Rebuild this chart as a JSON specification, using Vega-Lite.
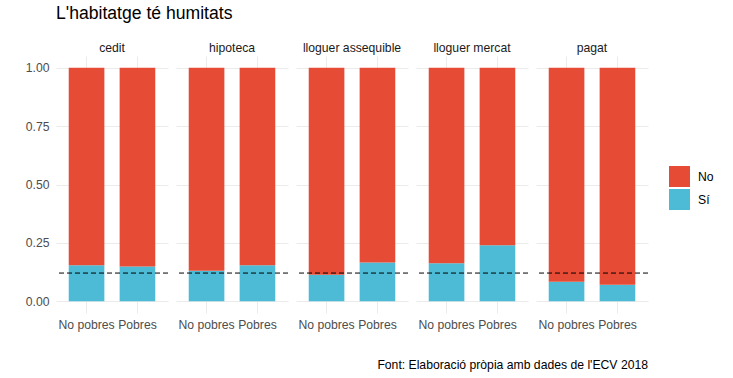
{
  "$schema": "https://vega.github.io/schema/vega-lite/v6.json",
  "padding": {"left": 25, "top": 5, "right": 5, "bottom": 5},
  "title": {"text": "Font: Elaboració pròpia amb dades de l'ECV 2018", "orient": "bottom", "anchor": "end", "fontSize": 12.2, "fontWeight": "normal", "color": "#000000", "font": "Liberation Sans", "offset": 29, "dx": -66},
  "data": {"values": [
    {"tinença": "cedit", "grup": "No pobres", "resposta": "Sí", "valor": 0.154, "ref": 0.121},
    {"tinença": "cedit", "grup": "No pobres", "resposta": "No", "valor": 0.846, "ref": 0.121},
    {"tinença": "cedit", "grup": "Pobres", "resposta": "Sí", "valor": 0.149, "ref": 0.121},
    {"tinença": "cedit", "grup": "Pobres", "resposta": "No", "valor": 0.851, "ref": 0.121},
    {"tinença": "hipoteca", "grup": "No pobres", "resposta": "Sí", "valor": 0.131, "ref": 0.121},
    {"tinença": "hipoteca", "grup": "No pobres", "resposta": "No", "valor": 0.869, "ref": 0.121},
    {"tinença": "hipoteca", "grup": "Pobres", "resposta": "Sí", "valor": 0.154, "ref": 0.121},
    {"tinença": "hipoteca", "grup": "Pobres", "resposta": "No", "valor": 0.846, "ref": 0.121},
    {"tinença": "lloguer assequible", "grup": "No pobres", "resposta": "Sí", "valor": 0.114, "ref": 0.121},
    {"tinença": "lloguer assequible", "grup": "No pobres", "resposta": "No", "valor": 0.886, "ref": 0.121},
    {"tinença": "lloguer assequible", "grup": "Pobres", "resposta": "Sí", "valor": 0.166, "ref": 0.121},
    {"tinença": "lloguer assequible", "grup": "Pobres", "resposta": "No", "valor": 0.834, "ref": 0.121},
    {"tinença": "lloguer mercat", "grup": "No pobres", "resposta": "Sí", "valor": 0.163, "ref": 0.121},
    {"tinença": "lloguer mercat", "grup": "No pobres", "resposta": "No", "valor": 0.837, "ref": 0.121},
    {"tinença": "lloguer mercat", "grup": "Pobres", "resposta": "Sí", "valor": 0.240, "ref": 0.121},
    {"tinença": "lloguer mercat", "grup": "Pobres", "resposta": "No", "valor": 0.760, "ref": 0.121},
    {"tinença": "pagat", "grup": "No pobres", "resposta": "Sí", "valor": 0.084, "ref": 0.121},
    {"tinença": "pagat", "grup": "No pobres", "resposta": "No", "valor": 0.916, "ref": 0.121},
    {"tinença": "pagat", "grup": "Pobres", "resposta": "Sí", "valor": 0.071, "ref": 0.121},
    {"tinença": "pagat", "grup": "Pobres", "resposta": "No", "valor": 0.929, "ref": 0.121}
  ]},
  "facet": {
    "column": {
      "field": "tinença",
      "type": "nominal",
      "title": "L'habitatge té humitats",
      "header": {
        "labelOrient": "top",
        "labelFontSize": 12.2,
        "labelColor": "#1A1A1A",
        "labelFont": "Liberation Sans",
        "labelPadding": 2,
        "titleOrient": "top",
        "titleAnchor": "start",
        "titleFontSize": 17.6,
        "titleFontWeight": "normal",
        "titleColor": "#000000",
        "titleFont": "Liberation Sans",
        "titlePadding": 8
      }
    }
  },
  "spacing": {"column": 8},
  "bounds": "flush",
  "spec": {
    "width": 112,
    "height": 257,
    "layer": [
      {
        "mark": {"type": "bar", "strokeWidth": 0},
        "encoding": {
          "x": {
            "field": "grup", "type": "nominal",
            "scale": {"paddingInner": 0.3, "paddingOuter": 0.25},
            "axis": {"title": null, "labelAngle": 0, "ticks": false, "domain": false, "grid": true, "bandPosition": 0.5, "gridColor": "#EBEBEB", "labelFontSize": 12.2, "labelColor": "#4D4D4D", "labelFont": "Liberation Sans", "labelPadding": 5}
          },
          "y": {
            "field": "valor", "type": "quantitative", "stack": "zero",
            "scale": {"domain": [-0.05, 1.05], "nice": false, "zero": false},
            "axis": {"title": null, "values": [0, 0.125, 0.25, 0.375, 0.5, 0.625, 0.75, 0.875, 1], "labelExpr": "(datum.value * 4) % 1 == 0 ? format(datum.value, '.2f') : ''", "ticks": false, "domain": false, "gridColor": "#EBEBEB", "labelFontSize": 12.2, "labelColor": "#4D4D4D", "labelFont": "Liberation Sans", "labelPadding": 7}
          },
          "color": {
            "field": "resposta", "type": "nominal",
            "scale": {"domain": ["No", "Sí"], "range": ["#E64B35", "#4DBBD5"]},
            "legend": {"title": null, "orient": "none", "legendX": 613, "legendY": 110, "symbolType": "square", "symbolSize": 441, "symbolStrokeWidth": 0, "labelFontSize": 12.2, "labelFont": "Liberation Sans", "labelColor": "#000000", "labelOffset": 8, "rowPadding": 2}
          },
          "order": {"field": "resposta", "sort": "descending"}
        }
      },
      {
        "transform": [{"filter": "datum.grup == 'No pobres' && datum.resposta == 'Sí'"}],
        "mark": {"type": "rule", "color": "#000000", "strokeWidth": 1, "strokeDash": [5, 3]},
        "encoding": {
          "y": {"field": "ref", "type": "quantitative"}
        }
      }
    ]
  },
  "config": {
    "view": {"stroke": null},
    "font": "Liberation Sans"
  }
}
